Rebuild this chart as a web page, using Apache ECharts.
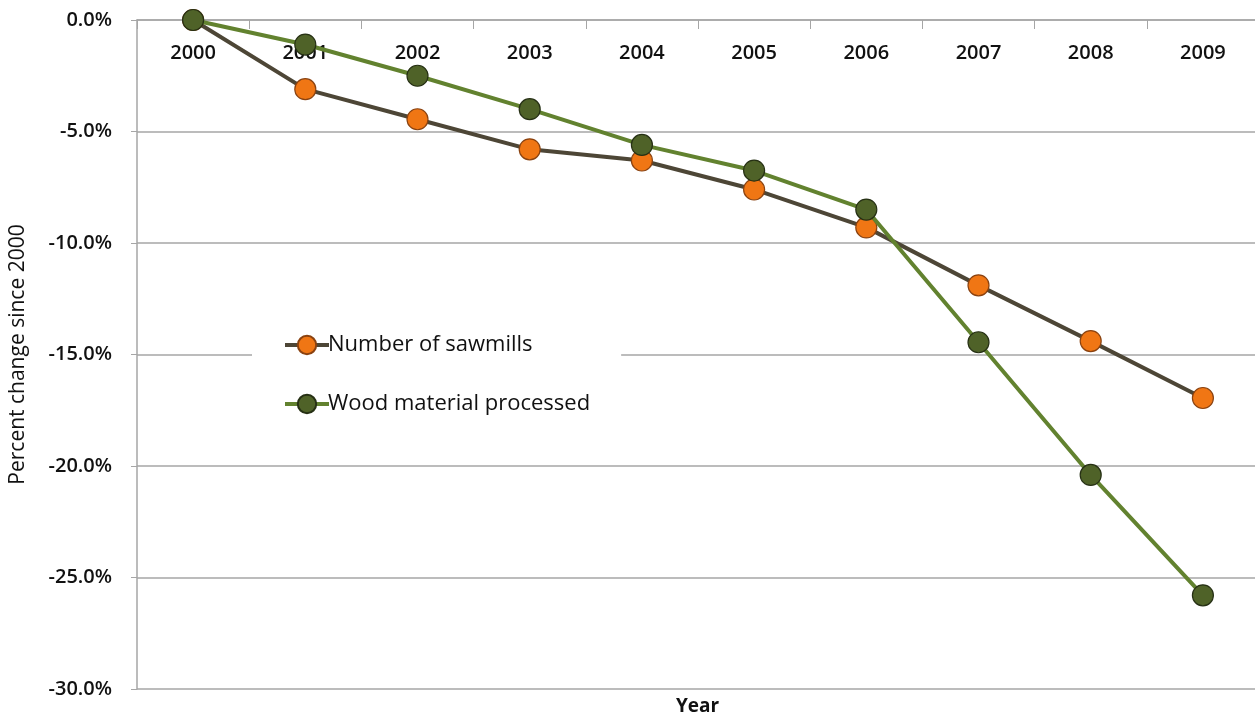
<!DOCTYPE html>
<html>
<head>
<meta charset="utf-8">
<script src="https://cdn.jsdelivr.net/npm/echarts@6/dist/echarts.min.js"></script>
<style>
  html, body { margin: 0; padding: 0; background: #fff; }
  #chart { width: 1255px; height: 721px; }
</style>
</head>
<body>
<div id="chart"></div>
<script>
// Years along the top axis
const years = ['2000', '2001', '2002', '2003', '2004', '2005', '2006', '2007', '2008', '2009'];
// Percent change since 2000
const sawmills = [0, -3.1, -4.45, -5.8, -6.3, -7.6, -9.3, -11.9, -14.4, -16.95];
const woodProcessed = [0, -1.1, -2.5, -4.0, -5.6, -6.75, -8.5, -14.45, -20.4, -25.8];
const yTicks = { min: -30, max: 0, interval: 5 };

const FONT = '"Open Sans", Lato, sans-serif';
const chart = echarts.init(document.getElementById('chart'), null, { renderer: 'canvas' });

chart.setOption({
  animation: false,
  backgroundColor: '#ffffff',
  grid: { left: 137, top: 20, width: 1122, height: 669, containLabel: false, outerBoundsMode: 'none' },
  xAxis: {
    type: 'category',
    data: years,
    boundaryGap: true,
    position: 'top',
    axisLine: { onZero: false, lineStyle: { color: '#a6a6a6', width: 1.5 } },
    axisTick: { show: true, inside: true, length: 9, lineStyle: { color: '#a6a6a6' } },
    axisLabel: { inside: true, margin: 33, color: '#111', fontFamily: FONT, fontSize: 20, fontWeight: 600, verticalAlign: 'middle' },
    splitLine: { show: false }
  },
  yAxis: {
    type: 'value',
    min: yTicks.min,
    max: yTicks.max,
    interval: yTicks.interval,
    name: 'Percent change since 2000',
    nameLocation: 'middle',
    nameGap: 108,
    nameRotate: 90,
    nameTextStyle: { color: '#111', fontFamily: FONT, fontSize: 21, fontWeight: 500 },
    axisLine: { show: true, lineStyle: { color: '#a6a6a6', width: 1.5 } },
    axisTick: { show: true, length: 6, inside: false, lineStyle: { color: '#a6a6a6' } },
    axisLabel: {
      margin: 25, color: '#111', fontFamily: FONT, fontSize: 20, fontWeight: 600,
      formatter: v => v.toFixed(1) + '%'
    },
    splitLine: { show: true, lineStyle: { color: '#a6a6a6', width: 1.5 } }
  },
  legend: {
    orient: 'vertical',
    left: 252,
    top: 324,
    padding: [10, 31, 10, 31],
    backgroundColor: '#ffffff',
    itemGap: 37,
    itemWidth: 44,
    itemHeight: 23,
    lineStyle: { width: 4 },
    textStyle: { color: '#111', fontFamily: FONT, fontSize: 22, fontWeight: 500, padding: [0, 0, 0, -6] },
    data: ['Number of sawmills', 'Wood material processed']
  },
  graphic: [{
    type: 'text',
    left: 676,
    top: 697,
    style: { text: 'Year', fill: '#111', font: 'bold 19px ' + FONT }
  }],
  series: [
    {
      name: 'Number of sawmills',
      type: 'line',
      data: sawmills,
      symbol: 'circle',
      symbolSize: 21,
      z: 2,
      lineStyle: { color: '#4d4636', width: 4 },
      itemStyle: { color: '#f07614', borderColor: '#8a4210', borderWidth: 1.2 }
    },
    {
      name: 'Wood material processed',
      type: 'line',
      data: woodProcessed,
      symbol: 'circle',
      symbolSize: 21,
      z: 3,
      lineStyle: { color: '#62822f', width: 4 },
      itemStyle: { color: '#4f6228', borderColor: '#263014', borderWidth: 1.2 }
    }
  ]
});
</script>
</body>
</html>
